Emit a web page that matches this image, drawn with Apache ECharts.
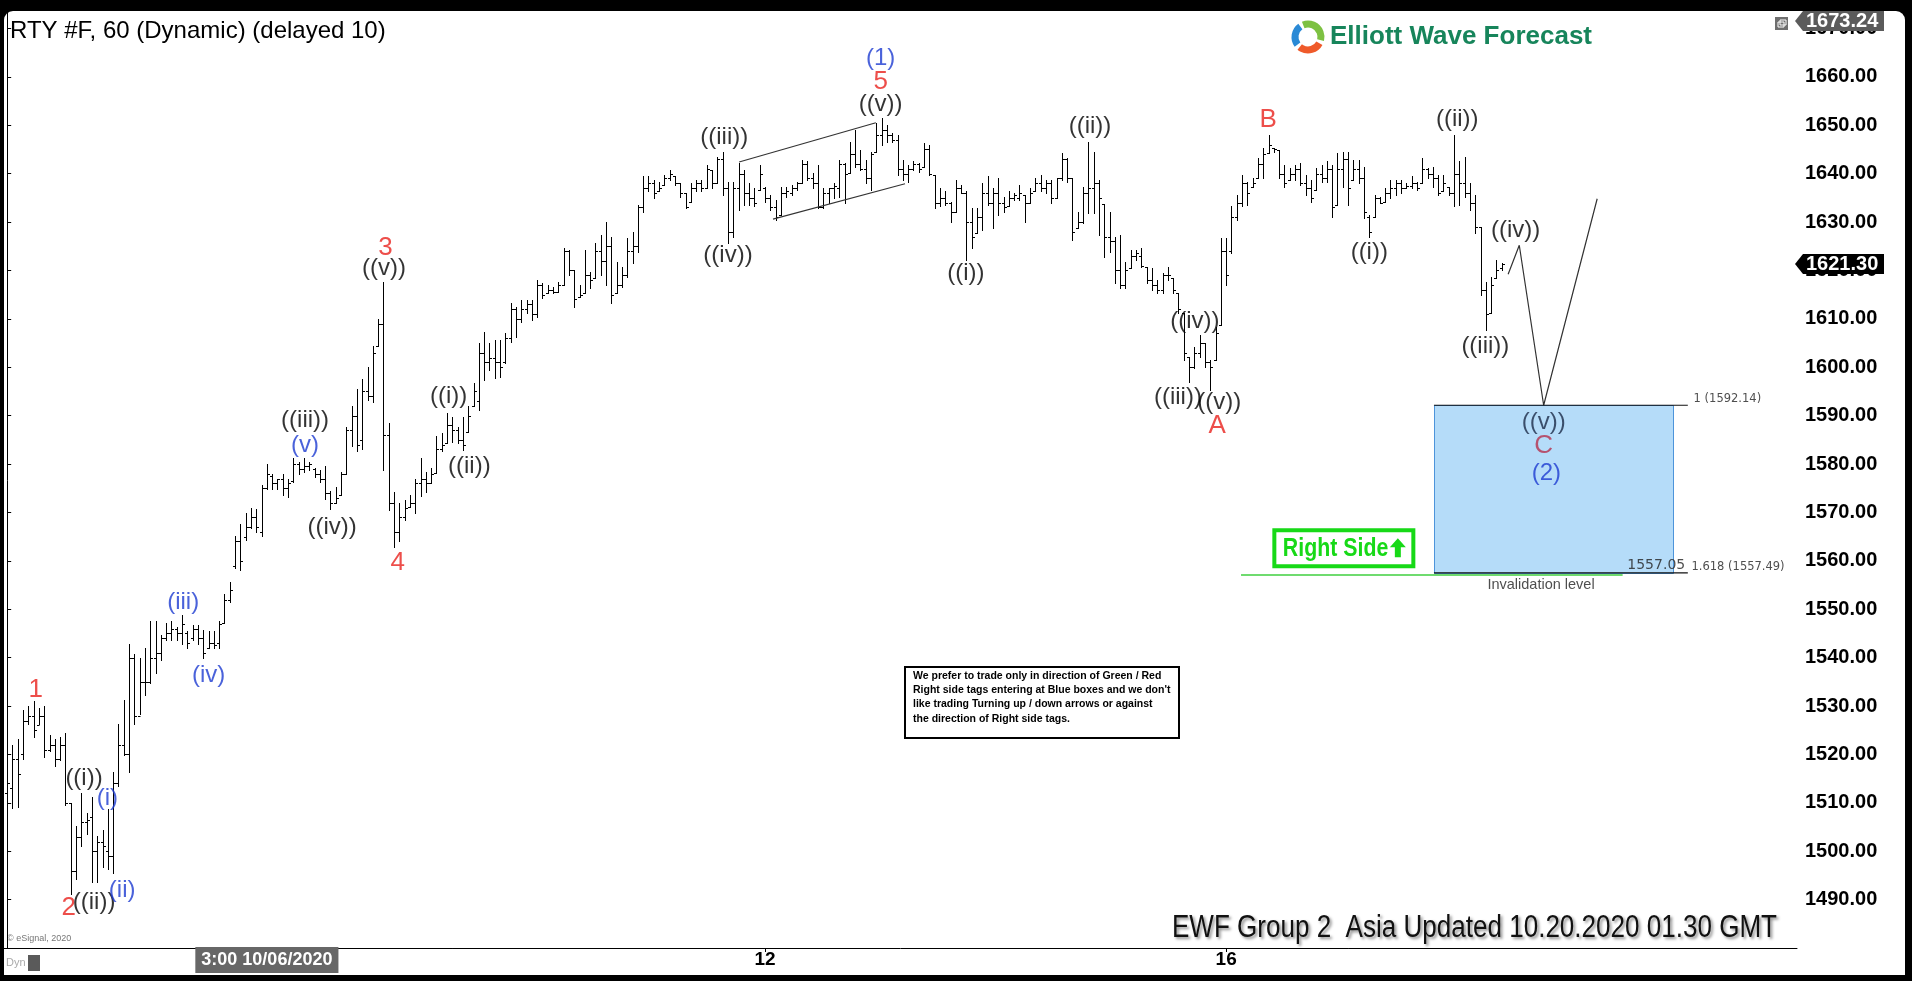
<!DOCTYPE html>
<html><head><meta charset="utf-8">
<script src="https://cdn.jsdelivr.net/npm/echarts@6/dist/echarts.min.js"></script>
<style>
html,body{margin:0;padding:0;background:#000;width:1912px;height:981px;overflow:hidden}
#frame{position:absolute;left:4px;top:11px;width:1901px;height:964px;background:#fff;border-radius:9px 9px 0 0}
#chart{position:absolute;left:0;top:0;width:1912px;height:981px}
</style></head><body><div id="frame"></div><div id="chart"></div>
<script>
// ---------------- DATA ----------------
const opens = [
1512,1513,1519,1520,1527,1528,1526,1528,1521,1522,
1519,1522,1510,1496,1503,1506,1507,1500,1502,1500,
1499,1514,1522,1520,1540,1528,1535,1535,1540,1541,
1544,1545,1546,1545,1545,1544,1546,1544,1542,1543,
1543,1547.1,1552,1559,1564,1565,1567,1569,1566,1575,
1577.5,1576,1577,1575,1576.5,1580,1579,1579.5,1579,1578,
1577,1574,1572,1573.6,1578,1587,1590,1585,1595,1594,
1604.3,1609,1586,1572,1566,1569,1571.2,1572,1576,1577,
1576,1578.1,1583,1584.3,1588,1587,1585,1586.7,1592,1593,
1603,1601,1602,1601,1601,1606,1612,1610,1612,1613,
1611,1617,1615.3,1616,1615.6,1617,1624,1620,1614.6,1615.3,
1619,1618.4,1624,1622,1625,1615.3,1617,1619,1624,1625,
1633,1637,1638,1636.3,1637.7,1639,1639.4,1638,1635.9,1634.2,
1637,1638,1637,1640.8,1638,1643,1637,1628,1637,1640,
1636,1635,1636.6,1637,1635,1633,1631.4,1636,1636,1637,
1638,1642,1639,1638,1633,1636,1637,1637,1642,1640.1,
1644,1642,1641,1639,1644.5,1648,1649,1648,1647,1641,
1640,1641,1642,1641.4,1645,1639.7,1634,1635,1634,1632.1,
1637,1636,1630,1627.7,1631,1636,1634,1636,1634,1633.2,
1635,1635,1635.6,1634,1636.3,1638,1637,1638,1635,1639,
1643,1639,1628.7,1630,1636,1637,1638,1633.8,1627,1626,
1620,1617,1620.4,1623,1623,1620.8,1618,1617,1616,1619,
1618.4,1615.3,1611.1,1602.2,1600,1603,1604.9,1601,1601.5,1608.7,
1624,1624,1631,1634,1638,1637.3,1639,1642,1644.2,1645.2,
1644.9,1640,1638.7,1640,1641,1638,1637,1636.6,1640,1639,
1641,1633.5,1641,1643,1638.7,1641,1639,1631,1631.1,1635,
1634.2,1636,1637,1638,1637,1637.5,1638,1638,1641,1640,
1639,1636.3,1637.3,1636,1640,1638,1636,1634,1629,1616,
1611.1,1618.4,1620.5];
const highs = [
1518,1522.0,1523.2,1529.2,1530.0,1531.1,1529.6,1529.9,1524.1,1523.2,
1523.6,1524.5,1510.0,1505.3,1512.1,1507.8,1511.3,1503.1,1504.4,1508.7,
1516.4,1526.2,1531.3,1542.8,1540.7,1539.9,1542.0,1547.5,1547.5,1544.6,
1547.1,1547.5,1546.3,1548.8,1545.4,1546.7,1546.7,1545.8,1545.4,1545.4,
1547.5,1553.1,1555.7,1565.1,1567.6,1569.8,1571.0,1570.6,1575.7,1580.0,
1577.9,1577.0,1577.9,1577.0,1581.3,1580.4,1581.3,1580.4,1579.1,1578.7,
1579.6,1574.4,1575.3,1578.3,1587.7,1592.0,1595.4,1597.5,1600.1,1604.3,
1609.9,1617.6,1588.4,1574.3,1571.9,1572.6,1573.6,1577.0,1581.2,1578.4,
1579.1,1585.7,1586.3,1590.5,1589.8,1587.7,1589.8,1591.9,1596.7,1604.9,
1607.3,1604.9,1605.6,1605.6,1607.0,1613.2,1612.5,1613.9,1613.9,1613.9,
1618.0,1617.3,1617.0,1616.6,1617.7,1624.6,1624.2,1620.1,1617.0,1624.2,
1619.7,1625.6,1627.3,1630.1,1627.0,1621.8,1620.8,1626.6,1628.0,1633.5,
1639.4,1639.4,1638.7,1638.3,1639.7,1640.8,1639.4,1638.0,1635.9,1638.0,
1638.7,1638.7,1641.8,1640.8,1643.5,1644.5,1638.3,1638.3,1642.1,1640.7,
1638.0,1637.0,1641.8,1637.3,1635.6,1634.5,1637.3,1637.3,1637.6,1638.3,
1642.8,1642.5,1640.1,1641.8,1637.0,1637.0,1638.0,1642.8,1642.1,1646.6,
1649.0,1644.9,1642.8,1644.5,1650.4,1651.4,1650.0,1648.3,1648.0,1642.8,
1641.8,1642.5,1642.1,1646.3,1645.9,1639.7,1637.0,1636.3,1634.2,1638.7,
1637.6,1636.3,1632.8,1632.8,1638.0,1639.4,1637.0,1639.0,1635.2,1636.3,
1635.9,1637.6,1635.6,1637.0,1639.0,1639.7,1638.7,1638.7,1639.0,1644.2,
1643.2,1639.0,1632.1,1637.3,1646.6,1644.5,1638.7,1633.8,1632.1,1627.0,
1627.3,1621.8,1624.2,1624.2,1624.6,1620.8,1620.4,1618.0,1619.4,1620.8,
1618.4,1615.3,1611.1,1602.2,1604.2,1606.6,1604.9,1601.5,1608.4,1626.6,
1626.6,1633.2,1635.6,1639.7,1638.3,1639.0,1643.2,1645.2,1648.0,1645.2,
1644.9,1641.8,1641.1,1641.8,1642.1,1639.7,1638.7,1641.1,1641.8,1642.5,
1641.8,1644.2,1644.5,1644.5,1642.8,1642.8,1641.4,1631.5,1635.6,1635.2,
1637.0,1638.7,1638.7,1638.7,1638.0,1639.4,1638.3,1643.2,1641.1,1641.4,
1639.7,1639.7,1637.3,1648.0,1642.5,1643.5,1638.0,1635.6,1629.0,1617.7,
1618.7,1622.1,1621.6];
const lows = [
1508.7,1508.9,1509.1,1519.0,1526.2,1523.6,1526.2,1519.4,1520.6,1517.7,
1518.9,1509.5,1491.2,1494.2,1501.0,1503.6,1493.7,1493.7,1496.7,1496.3,
1495.5,1513.4,1519.8,1516.4,1526.2,1528.3,1532.2,1534.7,1536.9,1539.4,
1543.7,1543.7,1543.7,1542.8,1542.0,1543.7,1542.9,1539.9,1542.0,1542.0,
1542.0,1547.1,1551.4,1558.6,1558.2,1564.2,1566.8,1565.9,1565.1,1574.9,
1574.9,1574.9,1573.6,1573.2,1576.2,1577.9,1578.3,1578.7,1577.4,1576.2,
1572.7,1570.6,1571.9,1573.6,1577.9,1583.8,1582.6,1583.0,1593.2,1592.8,
1604.3,1578.7,1570.5,1562.9,1564.0,1568.5,1571.2,1569.8,1573.3,1574.3,
1576.0,1578.1,1582.6,1584.3,1584.6,1584.3,1582.9,1586.7,1591.9,1591.2,
1597.4,1599.4,1597.7,1598.0,1600.8,1605.3,1606.3,1609.4,1611.1,1609.8,
1610.4,1614.2,1615.3,1615.3,1615.6,1617.0,1619.1,1612.5,1614.6,1615.3,
1616.3,1618.4,1619.1,1617.0,1613.2,1615.3,1616.6,1618.7,1621.5,1623.9,
1632.1,1636.3,1634.9,1636.3,1637.7,1638.7,1637.7,1635.2,1632.8,1634.2,
1636.3,1636.3,1637.0,1637.0,1638.0,1635.6,1625.6,1627.0,1632.5,1633.5,
1633.5,1633.2,1636.6,1634.2,1632.5,1630.4,1631.4,1635.2,1635.6,1636.6,
1638.0,1638.7,1637.0,1632.8,1632.8,1633.9,1634.9,1635.2,1633.9,1640.1,
1641.4,1640.8,1638.0,1636.6,1644.5,1645.9,1646.6,1646.6,1639.7,1638.7,
1638.3,1640.8,1640.4,1641.4,1639.7,1632.8,1633.2,1633.5,1630.1,1632.1,
1635.9,1622.1,1624.6,1627.7,1628.3,1633.5,1628.7,1631.4,1632.1,1633.2,
1634.5,1634.5,1630.1,1633.9,1636.3,1636.3,1635.9,1633.9,1634.9,1638.7,
1638.3,1626.3,1628.7,1629.7,1631.8,1631.8,1627.3,1622.8,1623.9,1617.3,
1616.3,1616.3,1620.4,1622.1,1620.8,1617.3,1615.9,1615.3,1615.3,1618.0,
1615.3,1611.1,1601.5,1597.0,1599.8,1602.2,1600.1,1595.3,1601.5,1608.7,
1617.0,1623.5,1630.4,1633.2,1633.5,1637.3,1639.0,1639.0,1644.2,1644.5,
1639.0,1637.3,1638.7,1638.7,1637.6,1635.6,1634.2,1636.6,1638.3,1638.3,
1631.1,1633.5,1637.3,1633.5,1638.7,1638.0,1630.8,1627.0,1631.1,1633.9,
1634.2,1634.9,1635.6,1635.9,1637.0,1637.0,1636.6,1638.0,1639.0,1637.3,
1635.6,1636.3,1635.6,1633.2,1633.5,1635.2,1632.5,1627.7,1614.9,1607.7,
1611.1,1618.4,1620.1];
const closes = [
1514,1519,1516,1527,1528,1525,1528,1521,1522,1519,
1522,1510,1496,1503,1506,1506.5,1500,1502,1501,1499,
1514,1522,1520,1540,1528,1535,1535,1540,1541,1544,
1545,1546,1545,1547,1543,1546,1544,1541,1543,1542.5,
1547,1552,1554,1564,1560,1567,1569,1567,1575,1578,
1576,1577,1575,1576,1580,1579,1579.5,1580,1578,1577,
1574,1572,1573,1578,1587,1590,1584,1595,1594,1603,
1609,1586,1572,1566,1569,1571,1572,1576,1577,1576,
1578,1583,1584,1588,1587,1585,1584,1590,1595,1603,
1601,1602,1601,1600,1606,1612,1610,1612,1613,1611,
1617,1615,1616,1615.5,1617,1624,1620,1614,1615,1619,
1618,1624,1622,1625,1615,1617,1619,1624,1625,1633,
1637,1638,1636,1637,1639,1640,1638,1636,1633,1637,
1638,1637,1641,1638,1643,1637,1628,1637,1640,1636,
1635,1634,1640,1635,1633,1631,1636,1636.5,1637,1638,
1642,1639,1638,1633,1636,1637,1637.5,1642,1640,1644,
1642,1641,1639,1644,1648,1649,1648,1647,1641,1640,
1641,1642,1641,1645,1640,1634,1635,1634,1632,1637,
1636,1630,1627,1631,1636,1634,1636,1634,1633,1635,
1635.5,1636,1634,1636,1638,1637,1638,1635,1639,1643,
1639,1628,1630,1636,1637,1638,1635,1627,1626,1620,
1617,1620,1623,1623.5,1621,1618,1617,1616,1619,1619,
1616,1612,1603,1600,1603,1605,1601,1600,1607,1624,
1619,1631,1634,1638,1636,1638,1642,1644,1646,1645,
1640,1638,1640,1641,1638,1637,1635,1640,1639,1641,
1633,1641,1643,1637,1641,1639,1632,1628,1635,1634,
1636,1637,1638,1637,1637.5,1638,1637,1641,1640,1639,
1636,1638,1636,1640,1638,1636,1634,1629,1616,1611,
1617,1620,1621.3];

// price-axis tick labels and time-axis tick labels
const yTicks = [1490,1500,1510,1520,1530,1540,1550,1560,1570,1580,1590,1600,1610,1620,1630,1640,1650,1660,1670];
const yTop = 1673.24, yBottom = 1480;
const xTickBars = [46, 143, 230];
const xLabelBars = [49, 143, 230];
const xTickLabels = ['3:00 10/06/2020', '12', '16'];

// wave labels: [text, bar position, price, colour key]
const waveLabels = [
 ['1', 5.4, 1533.3, 'red'], ['2', 11.6, 1488.2, 'red'],
 ['((i))', 14.5, 1515.1, 'black'], ['(i)', 18.9, 1510.9, 'blue'],
 ['((ii))', 16.4, 1489.4, 'black'], ['(ii)', 21.7, 1491.9, 'blue'],
 ['(iii)', 33.2, 1551.4, 'blue'], ['(iv)', 38.0, 1536.3, 'blue'],
 ['((iii))', 56.2, 1589.0, 'black'], ['(v)', 56.2, 1583.9, 'blue'],
 ['((iv))', 61.3, 1567.0, 'black'],
 ['3', 71.4, 1624.7, 'red'], ['((v))', 71.1, 1620.4, 'black'],
 ['4', 73.7, 1559.5, 'red'],
 ['((i))', 83.3, 1594.0, 'black'], ['((ii))', 87.2, 1579.6, 'black'],
 ['((iii))', 135.3, 1647.4, 'black'], ['((iv))', 136.0, 1623.2, 'black'],
 ['(1)', 164.8, 1663.8, 'blue'], ['5', 164.8, 1659.0, 'red'], ['((v))', 164.8, 1654.4, 'black'],
 ['((i))', 180.9, 1619.4, 'black'], ['((ii))', 204.3, 1649.7, 'black'],
 ['((iii))', 220.9, 1593.7, 'black'], ['((iv))', 224.1, 1609.4, 'black'],
 ['((v))', 228.7, 1592.7, 'black'], ['A', 228.3, 1587.9, 'red'],
 ['B', 237.9, 1651.2, 'red'],
 ['((i))', 257.0, 1623.7, 'black'], ['((ii))', 273.6, 1651.2, 'black'],
 ['((iii))', 278.9, 1604.3, 'black'], ['((iv))', 284.6, 1628.2, 'black'],
 ['((v))', 289.9, 1588.7, 'boxnavy'], ['C', 289.9, 1583.7, 'boxred'], ['(2)', 290.4, 1578.1, 'blue']
];

// drawn lines: [bar, price] points
const wedgeUpper = [[138.1, 1642.4], [163.9, 1650.5]];
const wedgeLower = [[144.5, 1630.6], [169.4, 1637.9]];
const projection = [[283.2, 1619.2], [285.3, 1625.2], [289.9, 1592.14], [300.0, 1634.8]];

// blue box and extension levels
const boxBars = [269.2, 314.3];
const levelEndBar = 317.1;
const level100 = 1592.14, level1618 = 1557.49;
const invalidation = 1557.05;
const invalidationLineBars = [232.8, 304.8];
const rightSideAt = [252.2, 1562.6];

// ---------------- CHART ----------------
const COLORS = {black:'#000000', red:'#e8221d', blue:'#1d3bd1', boxnavy:'#1c2b47', boxred:'#b52f4c'};
const SANS = "'Liberation Sans', Arial, sans-serif";
const CLEAR = 'rgba(0,0,0,0)';

const chart = echarts.init(document.getElementById('chart'), null, {renderer:'canvas'});

function lineSeries(points, color, width) {
  return {type:'line', data:points, symbol:'none', silent:true, animation:false,
    lineStyle:{color:color, width:width}, z:4};
}
function textPoint(x, y, text, label) {
  return {type:'scatter', data:[{value:[x,y]}], symbolSize:1, itemStyle:{color:CLEAR}, silent:true, animation:false, z:6,
    label:Object.assign({show:true, formatter:text, position:'inside'}, label)};
}

const option = {
  backgroundColor:'transparent',
  animation:false,
  grid:{left:4, right:115, top:12.7, height:935.3, containLabel:false},
  xAxis:{
    type:'value', min:-0.6, max:337.7,
    axisLine:{show:true, onZero:false, lineStyle:{color:'#000', width:1}},
    axisTick:{show:true, customValues:xTickBars, length:4, lineStyle:{color:'#000'}},
    splitLine:{show:false},
    axisLabel:{show:true, customValues:xLabelBars, margin:3,
      formatter:(v)=>{const k = xLabelBars.indexOf(v); if(k<0) return ''; return k===0 ? '{hl|'+xTickLabels[k]+'}' : '{n|'+xTickLabels[k]+'}';},
      rich:{
        hl:{backgroundColor:'#676767', color:'#fff', fontFamily:SANS, fontWeight:'bold', fontSize:18, padding:[4,6,4,6], lineHeight:18},
        n:{color:'#000', fontFamily:SANS, fontWeight:'bold', fontSize:19, padding:[4,0,4,0], lineHeight:18}
      }}
  },
  yAxis:{
    type:'value', position:'right', min:yBottom, max:yTop,
    axisLine:{show:true, lineStyle:{color:'#000', width:1}},
    axisTick:{show:true, customValues:yTicks, length:4, lineStyle:{color:'#000'}},
    splitLine:{show:false},
    axisLabel:{show:true, customValues:yTicks, margin:8, color:'#000', fontFamily:SANS, fontWeight:'bold', fontSize:20,
      formatter:(v)=>v.toFixed(2)}
  },
  series:[
    // blue target box
    {type:'custom', silent:true, animation:false, z:1,
      data:[[boxBars[0], level100, boxBars[1], level1618]],
      encode:{x:[0,2], y:[1,3]},
      renderItem:(p, api)=>{
        const a = api.coord([api.value(0), api.value(1)]);
        const b = api.coord([api.value(2), api.value(3)]);
        return {type:'rect', shape:{x:Math.round(a[0])+0.5, y:Math.round(a[1])+0.5, width:Math.round(b[0]-a[0]), height:Math.round(b[1]-a[1])},
          style:{fill:'#b5dcf9', stroke:'#4d94da', lineWidth:1}};
      }},
    // OHLC bars
    {type:'custom', name:'RTY #F', silent:true, animation:false, z:3,
      data: highs.map((h,i)=>[i, opens[i], h, lows[i], closes[i]]),
      encode:{x:0, y:[1,2,3,4]},
      renderItem:(p, api)=>{
        const x = api.value(0);
        const pH = api.coord([x, api.value(2)]);
        const pL = api.coord([x, api.value(3)]);
        const pO = api.coord([x, api.value(1)]);
        const pC = api.coord([x, api.value(4)]);
        const cx = Math.round(pH[0]) + 0.5;
        const yo = Math.round(pO[1]) + 0.5, yc = Math.round(pC[1]) + 0.5;
        const st = {stroke:'#000', lineWidth:1};
        return {type:'group', children:[
          {type:'line', shape:{x1:cx, y1:Math.round(pH[1]), x2:cx, y2:Math.round(pL[1])+1}, style:st},
          {type:'line', shape:{x1:cx-2.5, y1:yo, x2:cx, y2:yo}, style:st},
          {type:'line', shape:{x1:cx, y1:yc, x2:cx+2.5, y2:yc}, style:st}
        ]};
      }},
    lineSeries(wedgeUpper, '#333', 1.2),
    lineSeries(wedgeLower, '#333', 1.2),
    lineSeries(projection, '#333', 1.2),
    lineSeries([[boxBars[0], level100], [levelEndBar, level100]], '#111', 1.2),
    lineSeries([[boxBars[0], level1618], [levelEndBar, level1618]], '#111', 1.2),
    lineSeries([[invalidationLineBars[0], invalidation], [invalidationLineBars[1], invalidation]], '#3fcf3f', 1.5),
    // wave labels
    {type:'scatter', symbolSize:1, itemStyle:{color:CLEAR}, silent:true, animation:false, z:6,
      data: waveLabels.map(([t,x,y,c])=>({value:[x,y], label:{show:true, position:'inside', formatter:t,
        color:COLORS[c], fontFamily:SANS, fontSize:(c==='red'||c==='boxred')?26:24}}))},
    textPoint(levelEndBar+1.0, level100, '1 (1592.14)', {position:'right', distance:0, offset:[0,-6], color:'#222', fontFamily:"'DejaVu Sans', sans-serif", fontSize:11.5}),
    textPoint(levelEndBar+0.6, level1618, '1.618 (1557.49)', {position:'right', distance:0, offset:[0,-6], color:'#222', fontFamily:"'DejaVu Sans', sans-serif", fontSize:11.5}),
    textPoint(levelEndBar-0.4, level1618, invalidation.toFixed(2), {position:'left', distance:0, offset:[0,-8], color:'#222', fontFamily:"'DejaVu Sans', sans-serif", fontSize:14}),
    textPoint(289.4, 1555.0, 'Invalidation level', {color:'#222', fontFamily:SANS, fontSize:14.5})
  ]
};
chart.setOption(option);

// ---------- chrome / annotations placed through the chart scales ----------
const lastPrice = closes[closes.length-1];
const yLast = chart.convertToPixel({yAxisIndex:0}, lastPrice);
const axisX = chart.convertToPixel({xAxisIndex:0}, 337.7);
const rs = chart.convertToPixel({xAxisIndex:0, yAxisIndex:0}, rightSideAt);

function priceTag(id, yc, text, bg) {
  return [
    {type:'polygon', id:id+'p', z:50, shape:{points:[[axisX-2, yc], [axisX+6, yc-10], [axisX+87, yc-10], [axisX+87, yc+10], [axisX+6, yc+10]]}, style:{fill:bg}},
    {type:'text', id:id+'t', z:51, x:axisX+9, y:yc, style:{text:text, fill:'#fff', font:"bold 20px "+SANS, textVerticalAlign:'middle'}}
  ];
}

const noteLines = [
  'We prefer to trade only in direction of Green / Red',
  "Right side tags entering at Blue boxes and we don't",
  'like trading Turning up / down arrows or against',
  'the direction of Right side tags.'
];

const GREEN = '#17d917';
const graphics = [
  {type:'text', x:10, y:31, style:{text:'RTY #F, 60 (Dynamic) (delayed 10)', fill:'#000', font:'24px '+SANS, textVerticalAlign:'middle'}},
  // logo
  {type:'arc', shape:{cx:1308, cy:37, r:13, startAngle:-Math.PI*0.62, endAngle:Math.PI*0.08}, style:{stroke:'#7dc142', lineWidth:7, fill:null}},
  {type:'arc', shape:{cx:1308, cy:37, r:13, startAngle:Math.PI*0.16, endAngle:Math.PI*0.72}, style:{stroke:'#ef5a2a', lineWidth:7, fill:null}},
  {type:'arc', shape:{cx:1308, cy:37, r:13, startAngle:Math.PI*0.80, endAngle:Math.PI*1.30}, style:{stroke:'#2a8ad6', lineWidth:7, fill:null}},
  {type:'text', x:1330, y:37, style:{text:'Elliott Wave Forecast', fill:'#17855b', font:'bold 26px '+SANS, textVerticalAlign:'middle'}},
  // small window icon
  {type:'rect', shape:{x:1775, y:17, width:13, height:13}, style:{fill:'#6f6f6f'}},
  {type:'rect', shape:{x:1778, y:22, width:6, height:5}, style:{fill:null, stroke:'#fff', lineWidth:1}},
  {type:'rect', shape:{x:1780, y:20, width:6, height:5}, style:{fill:null, stroke:'#fff', lineWidth:1}},
  // note box
  {type:'rect', shape:{x:905, y:667, width:274, height:71}, style:{fill:'#fff', stroke:'#000', lineWidth:2}},
  ...noteLines.map((t,i)=>({type:'text', x:913, y:676+i*14.3, style:{text:t, fill:'#000', font:'bold 10.5px '+SANS, textVerticalAlign:'middle'}})),
  // Right Side tag
  {type:'rect', z:20, shape:{x:rs[0]-69.5, y:rs[1]-18, width:139, height:36}, style:{fill:'#fff', stroke:GREEN, lineWidth:4}},
  {type:'text', z:21, x:rs[0]-61, y:rs[1]+1, scaleX:0.82, scaleY:1,
    style:{text:'Right Side', fill:GREEN, font:'bold 26px '+SANS, textVerticalAlign:'middle'}},
  {type:'polygon', z:21, shape:{points:[[rs[0]+54,rs[1]-10],[rs[0]+62,rs[1]-1],[rs[0]+57,rs[1]-1],[rs[0]+57,rs[1]+9],[rs[0]+51,rs[1]+9],[rs[0]+51,rs[1]-1],[rs[0]+46,rs[1]-1]]}, style:{fill:GREEN}},
  // update stamp
  {type:'text', x:1777, y:928, scaleX:0.84, scaleY:1,
    style:{text:'EWF Group 2  Asia Updated 10.20.2020 01.30 GMT', fill:'#111', font:'31px '+SANS,
     textAlign:'right', textVerticalAlign:'middle', textShadowColor:'rgba(0,0,0,0.45)', textShadowBlur:3, textShadowOffsetX:2, textShadowOffsetY:2}},
  {type:'text', x:7, y:939, style:{text:'© eSignal, 2020', fill:'#777', font:'9px '+SANS, textVerticalAlign:'middle'}},
  {type:'text', x:6, y:963, style:{text:'Dyn', fill:'#aaa', font:'11px '+SANS, textVerticalAlign:'middle'}},
  {type:'rect', shape:{x:28, y:955, width:12, height:16}, style:{fill:'#5a5a5a'}},
  ...priceTag('top', 21, yTop.toFixed(2), '#5b5b5b'),
  ...priceTag('last', yLast, lastPrice.toFixed(2), '#000')
];
chart.setOption({graphic: graphics});
</script></body></html>
